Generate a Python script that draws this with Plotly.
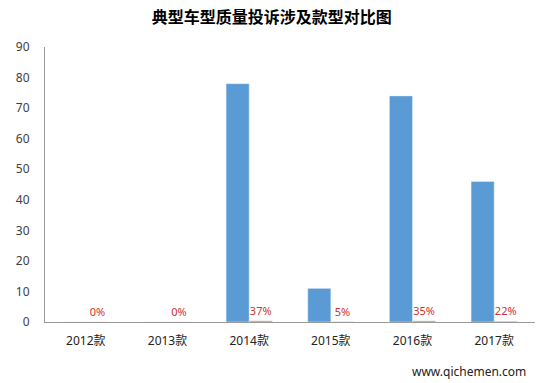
import plotly.graph_objects as go

categories = ["2012款", "2013款", "2014款", "2015款", "2016款", "2017款"]
complaints = [0, 0, 78, 11, 74, 46]
share = [0.0, 0.0, 0.37, 0.05, 0.35, 0.22]
share_labels = ["0%", "0%", "37%", "5%", "35%", "22%"]
y_ticks = [0, 10, 20, 30, 40, 50, 60, 70, 80, 90]

fig = go.Figure()
fig.add_trace(go.Bar(x=categories, y=complaints, marker_color="#5B9BD5", name="投诉量"))
fig.add_trace(go.Bar(x=categories, y=share, marker_color="#ED7D31", name="占比",
                     text=share_labels, textposition="outside", cliponaxis=False,
                     textfont=dict(color="#D0312D", size=11, family="Noto Sans")))

fig.update_layout(
    width=547, height=383,
    margin=dict(l=45, r=12, t=47, b=61),
    paper_bgcolor="white", plot_bgcolor="white",
    barmode="group", bargap=0.435, bargroupgap=0,
    showlegend=False,
    title=dict(text="<b>典型车型质量投诉涉及款型对比图</b>", x=0.497, xanchor="center", y=0.955, yanchor="middle",
               font=dict(family="Noto Sans CJK SC", size=16, color="#000000")),
    font=dict(family="Noto Sans, Noto Sans CJK SC", color="#404040"),
)
fig.update_xaxes(showline=True, linecolor="#999999", linewidth=1, ticks="", showgrid=False,
                 ticklabelstandoff=8,
                 tickfont=dict(size=12, color="#222222", family="Noto Sans, Noto Sans CJK SC"))
fig.update_yaxes(range=[0, 90], tickvals=y_ticks, showline=True, linecolor="#999999", linewidth=1,
                 showgrid=False, zeroline=False, ticks="", ticklabelstandoff=12,
                 tickfont=dict(size=12, color="#404040", family="Noto Sans"))
fig.add_annotation(text="www.qichemen.com", xref="paper", yref="paper", x=0.985, y=-0.18,
                   xanchor="right", yanchor="middle", showarrow=False,
                   font=dict(size=12, color="#222222", family="Noto Sans"))

fig.write_html("out.html")
